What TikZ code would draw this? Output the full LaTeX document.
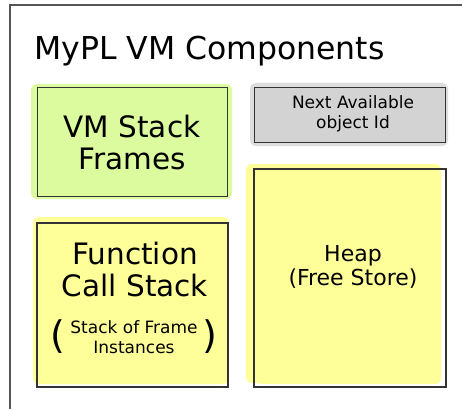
\documentclass[tikz,border=0pt]{standalone}
\usepackage{fontspec}
\setmainfont{DejaVu Sans}
\definecolor{framegray}{HTML}{555555}
\definecolor{edgegray}{HTML}{333333}
\definecolor{limefill}{HTML}{DCFB9E}
\definecolor{yellowfill}{HTML}{FFFF99}
\definecolor{grayfill}{HTML}{D3D3D3}
\definecolor{shadowgray}{HTML}{DDDDDD}
\tikzset{
  compbox/.style={draw=edgegray, line width=1.3pt, rectangle, inner sep=0pt, anchor=north west},
  blob/.style={rounded corners=6pt},
  big/.style={font=\fontsize{29.5}{32}\selectfont, align=center},
  small/.style={font=\fontsize{17}{20}\selectfont, align=center},
  mid/.style={font=\fontsize{22}{24}\selectfont, align=center},
}
\begin{document}
\begin{tikzpicture}[x=1pt,y=-1pt]
\useasboundingbox (0,0) rectangle (462,409);
\fill[white] (0,0) rectangle (462,409);
% outer frame
\draw[framegray, line width=2pt] (10,409) -- (10,5.5) -- (462,5.5);
% title
\node[anchor=base west, font=\fontsize{31.5}{34}\selectfont, inner sep=0pt] (title) at (34,60) {MyPL VM Components};
% highlight blobs
\fill[limefill, blob] (31,84) rectangle (232,199);
\fill[shadowgray, blob] (250,83) rectangle (448,146);
\fill[yellowfill, blob] (33,217) rectangle (229,384);
\fill[yellowfill, blob] (246,164) rectangle (441,383);
% boxes
\node[compbox, fill=limefill, minimum width=190pt, minimum height=109pt] (vmframes) at (37,87) {};
\node[compbox, fill=grayfill, minimum width=191pt, minimum height=55pt] (nextid) at (254,87) {};
\node[compbox, minimum width=190pt, minimum height=163pt] (callstack) at (37,223) {};
\node[compbox, minimum width=191pt, minimum height=217pt] (heap) at (254,169) {};
\fill[yellowfill, blob] (39,225) rectangle (225,384);
\fill[yellowfill, blob] (256,171) rectangle (441,384);
\draw[edgegray, line width=1.3pt] (callstack.north west) rectangle (callstack.south east);
\draw[edgegray, line width=1.3pt] (heap.north west) rectangle (heap.south east);
% texts
\node[big] (vmtext) at (132,143) {VM Stack\\Frames};
\node[small] (nexttext) at (353,114) {Next Available\\object Id};
\node[big] (calltext) at (135,269) {Function\\Call Stack};
\node[small] (insttext) at (134,337) {Stack of Frame\\Instances};
\node[font=\fontsize{38}{38}\selectfont, inner sep=0pt] (lp) at (58,337) {(};
\node[font=\fontsize{38}{38}\selectfont, inner sep=0pt] (rp) at (210,337) {)};
\node[mid] (heaptext) at (353,267) {Heap\\(Free Store)};
\end{tikzpicture}
\end{document}
